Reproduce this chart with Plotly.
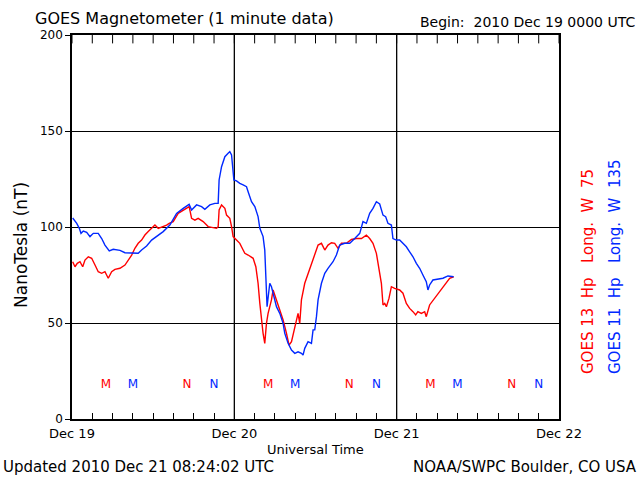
import plotly.graph_objects as go

# GOES 11 (blue): hours since 2010 Dec 19 00 UT, field in nT
g11_hours = [0.1, 0.7, 1.08, 1.33, 1.67, 2.17, 2.66, 3.15, 3.88, 4.39, 4.87, 5.51, 6.10, 7.09, 7.83,
             8.82, 9.79, 10.29, 11.03, 11.77, 12.51, 13.48, 14.47, 15.46, 16.44, 17.32, 17.68, 18.42,
             19.16, 19.64, 20.38, 21.12, 21.61, 21.75, 22.11, 22.60, 23.08, 23.33, 23.59, 23.73, 23.93,
             24.32, 24.81, 25.30, 25.80, 26.04, 26.29, 26.54, 27.03, 27.51, 27.77, 28.25, 28.50, 28.65,
             28.75, 28.84, 29.24, 29.49, 29.73, 30.23, 30.72, 31.21, 31.46, 31.95, 32.45, 32.94, 33.42,
             33.92, 34.16, 34.41, 34.90, 35.40, 35.64, 35.89, 36.14, 36.38, 36.88, 37.37, 37.85, 38.59,
             39.09, 39.58, 40.32, 41.06, 41.80, 42.54, 43.02, 43.52, 44.01, 44.50, 45.00, 45.49, 45.98,
             46.37, 46.71, 47.22, 47.45, 47.96, 48.44, 48.93, 49.43, 49.92, 50.41, 50.91, 51.40, 51.88,
             52.38, 52.62, 52.87, 53.36, 54.10, 54.84, 55.58, 56.42]
g11_nt = [104.7, 101.9, 99.3, 96.7, 97.9, 97.2, 95.0, 96.7, 96.7, 94.0, 90.6, 87.5, 88.4, 87.8, 86.6,
          86.3, 86.3, 88.0, 90.1, 93.2, 95.0, 97.6, 101.0, 107.1, 109.7, 111.8, 108.9, 111.5,
          110.6, 109.2, 111.5, 112.3, 112.3, 124.5, 131.4, 136.6, 138.4, 139.2, 137.5, 130.0, 124.5,
          124.0, 122.7, 121.9, 121.0, 118.4, 115.8, 113.2, 110.6, 105.4, 99.3, 95.0, 88.0, 77.6,
          65.5, 58.5, 70.7, 68.9, 65.5, 58.5, 55.0, 49.8, 44.6, 39.4, 35.9, 34.2, 35.0,
          34.2, 33.3, 36.8, 40.3, 39.4, 46.4, 46.4, 53.3, 62.0, 70.7, 75.9, 78.5, 81.9,
          85.4, 90.6, 91.5, 91.5, 94.0, 96.7, 102.8, 101.9, 107.1, 109.7, 113.2, 112.0, 106.2,
          105.4, 101.9, 101.0, 94.0, 93.2, 93.2, 91.5, 89.7, 87.1, 84.5, 81.1, 78.5, 75.0,
          71.5, 67.2, 69.8, 72.4, 72.8, 73.3, 74.5, 74.1]

# GOES 13 (red)
g13_hours = [0.1, 0.44, 0.78, 1.18, 1.58, 1.92, 2.41, 2.91, 3.40, 3.88, 4.39, 4.87, 5.36, 5.86, 6.35,
             7.09, 7.83, 8.31, 8.82, 9.30, 9.79, 10.29, 10.78, 11.27, 11.77, 12.26, 12.75, 13.48, 13.99,
             14.37, 14.96, 15.70, 16.44, 17.03, 17.32, 17.68, 18.17, 18.65, 19.39, 20.13, 20.87, 21.37,
             21.61, 21.75, 22.11, 22.60, 22.85, 23.33, 23.59, 23.82, 24.32, 24.81, 25.30, 25.55, 26.04,
             26.78, 27.18, 27.51, 27.77, 28.02, 28.25, 28.50, 28.75, 28.99, 29.24, 29.49, 29.73, 30.23,
             30.72, 31.21, 31.71, 32.09, 32.45, 32.94, 33.42, 33.67, 33.92, 34.41, 34.90, 35.40, 35.89,
             36.38, 36.88, 37.37, 37.85, 38.36, 38.84, 39.33, 39.83, 40.57, 41.31, 42.05, 42.79, 43.52,
             44.01, 44.50, 45.00, 45.38, 45.74, 45.98, 46.23, 46.48, 46.86, 47.22, 47.70, 48.44, 48.93,
             49.43, 49.92, 50.41, 50.81, 51.14, 51.65, 52.14, 52.38, 52.87, 53.61, 54.35, 55.09, 55.83,
             56.42]
g13_nt = [81.9, 79.3, 81.1, 81.9, 79.3, 82.8, 84.5, 83.7, 80.2, 76.7, 75.9, 76.7, 73.3, 76.7, 77.9,
          78.5, 80.2, 82.8, 85.4, 88.9, 91.5, 93.2, 95.8, 97.6, 99.3, 101.0, 99.3, 100.2, 101.0,
          101.9, 102.8, 107.1, 108.5, 109.7, 110.6, 104.5, 103.6, 104.5, 102.8, 100.2, 99.8, 99.3,
          100.2, 108.9, 111.5, 109.7, 106.2, 104.5, 100.2, 95.0, 93.2, 91.5, 88.0, 86.3, 85.4,
          83.7, 79.3, 70.7, 60.2, 49.8, 44.6, 39.4, 49.8, 55.0, 58.5, 62.0, 67.2, 62.0,
          56.8, 51.6, 44.6, 38.5, 40.3, 48.0, 55.0, 49.8, 62.0, 70.7, 75.9, 81.1, 86.3,
          90.6, 91.5, 88.0, 90.6, 91.8, 91.5, 88.9, 91.5, 91.5, 93.5, 94.0, 94.0, 95.8,
          94.0, 91.5, 86.3, 79.3, 70.7, 59.4, 60.2, 58.5, 62.8, 68.9, 68.0, 67.2, 65.5,
          60.2, 57.6, 55.9, 54.2, 55.9, 55.0, 55.9, 53.3, 59.4, 62.8, 66.3, 69.8, 73.3,
          74.1]

# Local midnight (M) / noon (N) markers
g13_mn_hours = [5, 17, 29, 41, 53, 65]
g11_mn_hours = [9, 21, 33, 45, 57, 69]
mn_labels = ["M", "N", "M", "N", "M", "N"]
mn_level = 17.7

day_ticks = [0, 24, 48, 72]
day_labels = ["Dec 19", "Dec 20", "Dec 21", "Dec 22"]
hour_ticks = list(range(0, 73, 3))
y_ticks = [0, 50, 100, 150, 200]
y_top = 200

RED = "#ff0000"
BLUE = "#0028ff"
FONT = "DejaVu Sans"

fig = go.Figure()
fig.add_trace(go.Scatter(x=g13_hours, y=g13_nt, mode="lines",
                         line=dict(color=RED, width=1.4), showlegend=False))
fig.add_trace(go.Scatter(x=g11_hours, y=g11_nt, mode="lines",
                         line=dict(color=BLUE, width=1.4), showlegend=False))
fig.add_trace(go.Scatter(x=g13_mn_hours, y=[mn_level] * len(g13_mn_hours), mode="text",
                         text=mn_labels, textfont=dict(color=RED, size=12, family=FONT),
                         showlegend=False))
fig.add_trace(go.Scatter(x=g11_mn_hours, y=[mn_level] * len(g11_mn_hours), mode="text",
                         text=mn_labels, textfont=dict(color=BLUE, size=12, family=FONT),
                         showlegend=False))
# top-edge tick marks (half of each vertical marker is clipped by the plot area)
fig.add_trace(go.Scatter(x=hour_ticks, y=[y_top] * len(hour_ticks), mode="markers",
                         marker=dict(symbol="line-ns", size=12,
                                     line=dict(color="black", width=1)),
                         cliponaxis=True, showlegend=False, hoverinfo="skip"))

hour_text = [day_labels[day_ticks.index(h)] if h in day_ticks else "" for h in hour_ticks]

fig.update_layout(
    xaxis=dict(range=[0, 72], tickvals=hour_ticks, ticktext=hour_text, ticks="inside",
               ticklen=6, tickcolor="black", tickwidth=1, showgrid=False,
               showline=True, linecolor="black", linewidth=1.5, mirror=True,
               ticklabelstandoff=2,
               tickfont=dict(size=13, family=FONT, color="black"), zeroline=False),
    yaxis=dict(range=[0, 200], tickvals=y_ticks, ticks="outside", ticklen=5,
               tickcolor="black", showgrid=True, gridcolor="black", gridwidth=1.3,
               showline=True, linecolor="black", linewidth=1.5, mirror=True,
               tickfont=dict(size=12, family=FONT, color="black"), zeroline=False),
)

for d in day_ticks[1:-1]:
    fig.add_vline(x=d, line=dict(color="black", width=1.3), layer="below")


def px_x(p):
    return (p - 72) / 487.0


def px_y(p):
    return (419 - p) / 384.0


ann = [
    dict(text="GOES Magnetometer (1 minute data)", x=px_x(33), y=px_y(18), xanchor="left",
         yanchor="middle", font=dict(size=16)),
    dict(text="Begin:\u00a0\u00a02010 Dec 19 0000 UTC", x=px_x(637), y=px_y(22), xanchor="right",
         yanchor="middle", font=dict(size=14)),
    dict(text="Universal Time", x=px_x(315), y=px_y(449), xanchor="center", yanchor="middle",
         font=dict(size=13)),
    dict(text="Updated 2010 Dec 21 08:24:02 UTC", x=px_x(1), y=px_y(467), xanchor="left",
         yanchor="middle", font=dict(size=15)),
    dict(text="NOAA/SWPC Boulder, CO USA", x=px_x(639), y=px_y(467), xanchor="right",
         yanchor="middle", font=dict(size=15)),
    dict(text="NanoTesla (nT)", x=px_x(21), y=px_y(245), xanchor="center", yanchor="middle",
         textangle=-90, font=dict(size=17)),
    dict(text="GOES\u00a013\u00a0\u00a0Hp\u00a0\u00a0\u00a0Long.\u00a0\u00a0W\u00a0\u00a075",
         x=px_x(588), y=px_y(272), xanchor="center", yanchor="middle", textangle=-90,
         font=dict(size=15, color=RED)),
    dict(text="GOES\u00a011\u00a0\u00a0Hp\u00a0\u00a0\u00a0Long.\u00a0\u00a0W\u00a0\u00a0135",
         x=px_x(615), y=px_y(267), xanchor="center", yanchor="middle", textangle=-90,
         font=dict(size=15, color=BLUE)),
]
for a in ann:
    a.setdefault("font", {})
    a["font"].setdefault("color", "black")
    a["font"]["family"] = FONT
    fig.add_annotation(xref="paper", yref="paper", showarrow=False, **a)

fig.update_layout(width=640, height=480, margin=dict(l=72, r=81, t=35, b=61),
                  paper_bgcolor="white", plot_bgcolor="white",
                  font=dict(family=FONT, color="black"))

fig.write_html("out.html")
